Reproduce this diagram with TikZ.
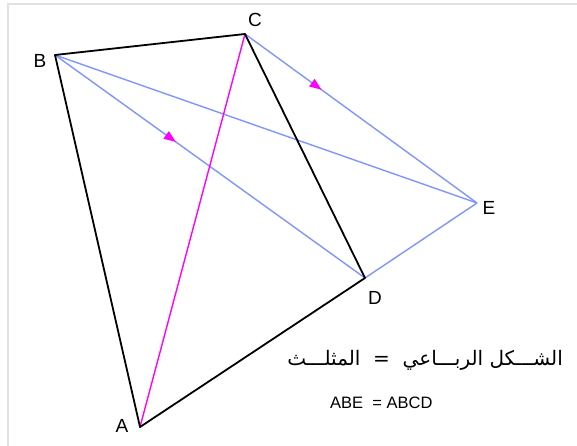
\documentclass[tikz,border=0pt]{standalone}
\usepackage{fontspec}
\setmainfont{Liberation Sans}
\newfontfamily\arabicfont[Script=Arabic]{DejaVu Sans}
\TeXXeTstate=1
\usetikzlibrary{arrows.meta,decorations.markings}
\definecolor{lineblue}{RGB}{128,150,255}
\definecolor{linemag}{RGB}{255,0,255}
\definecolor{framegray}{RGB}{225,225,225}
\tikzset{
  edgeblack/.style={draw=black,line width=1.8pt},
  edgeblue/.style={draw=lineblue,line width=1.4pt},
  edgemag/.style={draw=linemag,line width=1.4pt},
  lbl/.style={font=\fontsize{19}{21}\selectfont,inner sep=0pt},
  midarrow/.style={postaction={decorate,decoration={markings,
     mark=at position #1 with {\arrow[linemag]{Triangle[length=12pt,width=9pt]}}}}}
}
\begin{document}
\begin{tikzpicture}[x=1pt,y=-1pt]
\useasboundingbox (0,0) rectangle (577,446);
\fill[white] (0,0) rectangle (577,446);
\draw[framegray,line width=1.5pt] (8,446) -- (8,4) -- (577,4);
\coordinate (A) at (140,427);
\coordinate (B) at (55,55);
\coordinate (C) at (245,34);
\coordinate (D) at (365,278);
\coordinate (E) at (477,203);
\draw[edgeblue] (B) -- (E);
\draw[edgeblue,midarrow=0.39] (B) -- (D);
\draw[edgeblue,midarrow=0.33] (C) -- (E);
\draw[edgeblue] (D) -- (E);
\draw[edgemag] (A) -- (C);
\draw[edgeblack,line join=round] (A) -- (B) -- (C) -- (D) -- cycle;
\node[lbl] (lA) at (122,426) {A};
\node[lbl] (lB) at (40,61) {B};
\node[lbl] (lC) at (255,20) {C};
\node[lbl] (lD) at (375,298) {D};
\node[lbl] (lE) at (489,208) {E};
\node[anchor=base east,inner sep=0pt,font=\fontsize{20}{24}\selectfont] (ar) at (563,365)
  {\arabicfont\beginR الشـــكل الربـــاعي \ =\ \ المثلـــث\endR};
\node[anchor=base west,inner sep=0pt,font=\fontsize{16.5}{19}\selectfont] (eq) at (330,408) {ABE\ \ = ABCD};
\end{tikzpicture}
\end{document}
